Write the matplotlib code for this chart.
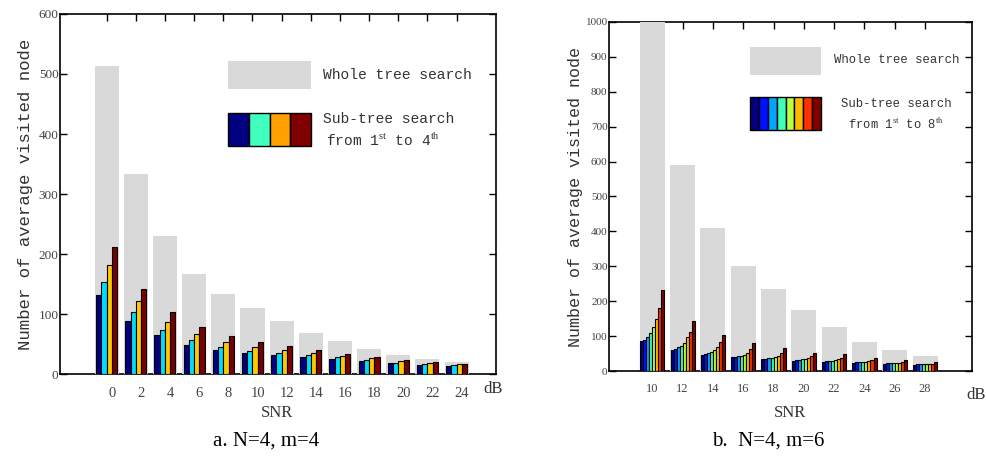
import matplotlib
matplotlib.use("Agg")
import matplotlib.pyplot as plt
import numpy as np
from matplotlib.patches import Rectangle

plt.rcParams["mathtext.fontset"] = "custom"
plt.rcParams["mathtext.rm"] = "Liberation Serif"

# panel a: N=4, m=4
snr_a = [0, 2, 4, 6, 8, 10, 12, 14, 16, 18, 20, 22, 24]
whole_a = [514, 334, 230, 167, 134, 110, 89, 69, 55, 42, 32, 25, 20]
sub_a = [
    [131, 89, 65, 49, 40, 35, 31, 29, 25, 21, 18, 15, 14],
    [154, 103, 74, 57, 45, 39, 35, 31, 28, 24, 19, 16, 15],
    [182, 122, 87, 66, 53, 45, 40, 35, 30, 26, 21, 18, 16],
    [211, 142, 103, 79, 64, 54, 47, 40, 34, 29, 24, 20, 17],
]
bar_colors_a = ["#000080", "#00DDFF", "#FFC800", "#7A0000"]
legend_colors_a = ["#000080", "#40FFBF", "#FF9F00", "#800000"]

# panel b: N=4, m=6
snr_b = [10, 12, 14, 16, 18, 20, 22, 24, 26, 28]
whole_b = [1000, 590, 411, 300, 234, 174, 125, 82, 59, 42]
sub_b = [
    [85, 61, 47, 39, 33, 30, 27, 24, 21, 18],
    [90, 64, 49, 41, 35, 31, 28, 25, 22, 19],
    [98, 69, 52, 42, 37, 32, 29, 25, 22, 19],
    [108, 73, 55, 44, 38, 33, 30, 26, 23, 19],
    [125, 81, 60, 47, 40, 35, 31, 27, 23, 20],
    [150, 96, 69, 53, 44, 38, 34, 28, 24, 20],
    [181, 113, 82, 63, 52, 43, 38, 31, 26, 21],
    [231, 142, 102, 79, 66, 53, 49, 38, 31, 25],
]
colors_b = [plt.cm.jet(v) for v in np.linspace(0, 1, 8)]

GRAY = "#D9D9D9"
MONO = "Liberation Mono"
SERIF = "Liberation Serif"
W, H = 986, 461

fig = plt.figure(figsize=(W / 100, H / 100), dpi=100)


def fx(px):
    return px / W


def fy(py):
    return 1 - py / H


def draw_panel(ax, snr, whole, subs, bar_colors, sub_w, ylim, yticks, label_dx,
               tick_fs, lab_fs):
    snr = np.asarray(snr, float)
    ax.bar(snr, whole, width=1.65, color=GRAY, zorder=3, linewidth=0)
    n = len(subs)
    offs = (np.arange(n) - (n - 1) / 2) * sub_w
    for k, vals in enumerate(subs):
        ax.bar(snr + offs[k], vals, width=sub_w, color=bar_colors[k],
               edgecolor="black", linewidth=0.8, zorder=4)
    ax.set_ylim(*ylim)
    ax.set_yticks(yticks)
    ax.set_yticklabels([str(t) for t in yticks], fontfamily=SERIF,
                       fontsize=tick_fs, color="#444444")
    ax.set_xticks(snr)
    ax.tick_params(axis="x", which="both", top=True, bottom=False,
                   labelbottom=False, direction="in", length=5, width=1)
    ax.tick_params(axis="y", which="both", left=True, right=True,
                   direction="in", length=5, width=1, pad=1)
    for s in snr:
        ax.text(s + label_dx, -0.035, f"{int(s)}", transform=ax.get_xaxis_transform(),
                ha="center", va="top", fontfamily=SERIF, fontsize=lab_fs,
                color="#444444")
    for sp in ax.spines.values():
        sp.set_linewidth(1.2)
        sp.set_zorder(2)


# ---- panel a ----
ax1 = fig.add_axes([fx(60), fy(374), fx(496) - fx(60), fy(14) - fy(374)])
draw_panel(ax1, snr_a, whole_a, sub_a, bar_colors_a, 0.36, (0, 600),
           [0, 100, 200, 300, 400, 500, 600], 0.35, 9.5, 10.5)
ax1.set_xlim(-3.2, 26.7)
ax1.set_ylabel("Number of average visited node", fontfamily=MONO, fontsize=12.5,
               color="#333333", labelpad=4)

# ---- panel b ----
ax2 = fig.add_axes([fx(609), fy(371), fx(972) - fx(609), fy(22) - fy(371)])
draw_panel(ax2, snr_b, whole_b, sub_b, colors_b, 0.2, (0, 1000),
           list(range(0, 1001, 100)), 0.0, 8, 9)
ax2.set_xlim(7.14, 31.1)
ax2.set_ylabel("Number of average visited node", fontfamily=MONO, fontsize=12,
               color="#333333", labelpad=2)

# axis words
fig.text(fx(277), fy(413), "SNR", ha="center", va="center", fontfamily=SERIF,
         fontsize=12, color="#333333")
fig.text(fx(790), fy(413), "SNR", ha="center", va="center", fontfamily=SERIF,
         fontsize=12, color="#333333")
fig.text(fx(483), fy(389), "dB", ha="left", va="center", fontfamily=SERIF,
         fontsize=12, color="#333333")
fig.text(fx(966), fy(395), "dB", ha="left", va="center", fontfamily=SERIF,
         fontsize=12, color="#333333")

# captions
fig.text(fx(266), fy(441), "a. N=4, m=4", ha="center", va="center",
         fontfamily=SERIF, fontsize=15)
fig.text(fx(768), fy(441), "b.  N=4, m=6", ha="center", va="center",
         fontfamily=SERIF, fontsize=15)


def legend(x0, x1, ytop_g, ybot_g, ytop_c, ybot_c, colors, tx, ty1, tsub,
           ty2, ty3, last, fs, center=False):
    fig.patches.append(Rectangle((fx(x0), fy(ybot_g)), fx(x1) - fx(x0),
                                 fy(ytop_g) - fy(ybot_g), transform=fig.transFigure,
                                 facecolor=GRAY, edgecolor="none"))
    n = len(colors)
    cw = (x1 - x0) / n
    for k, c in enumerate(colors):
        fig.patches.append(Rectangle((fx(x0 + k * cw), fy(ybot_c)), fx(cw),
                                     fy(ytop_c) - fy(ybot_c),
                                     transform=fig.transFigure, facecolor=c,
                                     edgecolor="black", linewidth=1))
    fig.text(fx(tx), fy(ty1), "Whole tree search", ha="left", va="center",
             fontfamily=MONO, fontsize=fs, color="#333333")
    ha = "center" if center else "left"
    fig.text(fx(tsub), fy(ty2), "Sub-tree search", ha=ha, va="center",
             fontfamily=MONO, fontsize=fs, color="#333333")
    fig.text(fx(tsub + (0 if center else 3)), fy(ty3),
             r"from 1$^{\mathrm{st}}$ to " + last + r"$^{\mathrm{th}}$",
             ha=ha, va="center", fontfamily=MONO, fontsize=fs, color="#333333")


legend(228, 311, 61, 89, 113, 146, legend_colors_a, 323, 75, 323, 119, 140, "4",
       10.5)
legend(750, 821, 47, 75, 97, 130, colors_b, 834, 60, 896, 104, 124, "8",
       8.8, center=True)

fig.savefig("out.png", dpi=100)
